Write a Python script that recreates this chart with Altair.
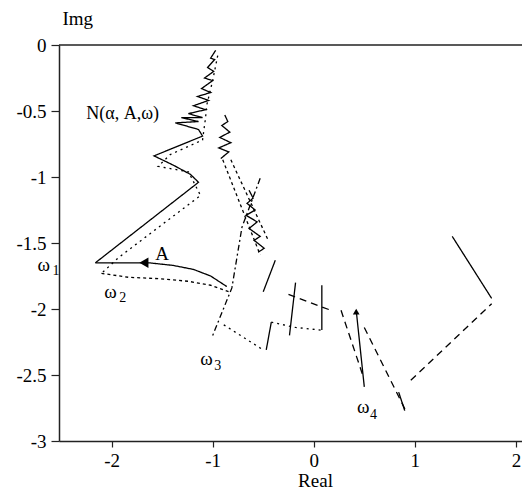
import altair as alt
import pandas as pd

# ---- data (in data units) ----
N_X = [-0.97, -1.02, -0.98, -1.05, -0.99, -1.08, -1.00, -1.11, -1.02, -1.15, -1.04, -1.19, -1.07, -1.24, -1.10, -1.31, -1.14, -1.37, -1.14, -1.10, -1.58, -1.39, -1.22, -1.14, -2.16]
N_Y = [-0.04, -0.10, -0.11, -0.17, -0.20, -0.25, -0.27, -0.33, -0.36, -0.39, -0.42, -0.46, -0.49, -0.52, -0.55, -0.55, -0.58, -0.59, -0.64, -0.69, -0.84, -0.91, -0.98, -1.04, -1.65]
A_X = [-2.16, -1.63, -1.39, -1.19, -1.02, -0.86]
A_Y = [-1.65, -1.65, -1.67, -1.70, -1.75, -1.83]
S2_X = [-0.88, -0.85, -0.91, -0.83, -0.93, -0.82, -0.94, -0.84, -0.92]
S2_Y = [-0.53, -0.58, -0.61, -0.66, -0.70, -0.74, -0.78, -0.81, -0.86]
S3_X = [-0.64, -0.60, -0.66, -0.58, -0.67, -0.56, -0.64, -0.53, -0.59, -0.49, -0.55]
S3_Y = [-1.10, -1.16, -1.20, -1.25, -1.29, -1.34, -1.39, -1.45, -1.48, -1.54, -1.57]
F1_X, F1_Y = [-0.38, -0.50], [-1.63, -1.87]
F2_X, F2_Y = [-0.18, -0.24], [-1.80, -2.20]
F3_X, F3_Y = [0.08, 0.08], [-1.82, -2.16]
F4_X, F4_Y = [0.42, 0.50], [-2.01, -2.59]
F5_X, F5_Y = [1.37, 1.76], [-1.45, -1.92]
F6_X, F6_Y = [-0.47, -0.42], [-2.31, -2.10]
F7_X, F7_Y = [0.84, 0.90], [-2.63, -2.77]
D1_X = [-0.95, -1.00, -1.06, -1.07, -1.10, -1.42, -1.54, -1.24, -1.12, -1.93, -2.10]
D1_Y = [-0.08, -0.27, -0.46, -0.55, -0.72, -0.83, -0.92, -0.96, -1.14, -1.61, -1.73]
H_X = [-2.10, -1.83, -1.54, -1.24, -1.02, -0.84]
H_Y = [-1.73, -1.76, -1.77, -1.79, -1.82, -1.87]
DD_X = [-0.53, -0.71, -0.81, -1.01]
DD_Y = [-1.01, -1.38, -1.84, -2.22]
D4A_X, D4A_Y = [-0.89, -0.52], [-2.12, -2.30]
D4B_X, D4B_Y = [-0.42, -0.18, 0.07], [-2.10, -2.14, -2.16]
E0_X, E0_Y = [-0.25, 0.17], [-1.89, -2.01]
E1_X, E1_Y = [0.27, 0.48], [-2.01, -2.49]
E2_X, E2_Y = [0.50, 0.91], [-2.14, -2.77]
E3_X, E3_Y = [0.96, 1.76], [-2.54, -1.96]
B1_X, B1_Y = [-0.90, -0.53], [-0.87, -1.59]
B2_X, B2_Y = [-0.82, -0.45], [-0.87, -1.48]

SEGMENTS = [
    ("N", N_X, N_Y, "solid"), ("A", A_X, A_Y, "solid"),
    ("S2", S2_X, S2_Y, "solid"), ("S3", S3_X, S3_Y, "solid"),
    ("F1", F1_X, F1_Y, "solid"), ("F2", F2_X, F2_Y, "solid"),
    ("F3", F3_X, F3_Y, "solid"), ("F4", F4_X, F4_Y, "solid"),
    ("F5", F5_X, F5_Y, "solid"), ("F6", F6_X, F6_Y, "solid"),
    ("F7", F7_X, F7_Y, "solid"),
    ("D1", D1_X, D1_Y, "dotted"), ("H", H_X, H_Y, "hatch"),
    ("DD", DD_X, DD_Y, "dashdot"),
    ("D4A", D4A_X, D4A_Y, "dotted"), ("D4B", D4B_X, D4B_Y, "dotted"),
    ("E0", E0_X, E0_Y, "dashed"), ("E1", E1_X, E1_Y, "dashed"),
    ("E2", E2_X, E2_Y, "dashed"), ("E3", E3_X, E3_Y, "dashed"),
    ("B1", B1_X, B1_Y, "hatch"), ("B2", B2_X, B2_Y, "hatch"),
]

rows = []
for name, xs_, ys_, style in SEGMENTS:
    for i, (xv, yv) in enumerate(zip(xs_, ys_)):
        rows.append({"seg": name, "ord": i, "x": xv, "y": yv, "style": style})
lines_df = pd.DataFrame(rows)

ARROW_X = [-1.68, 0.42]
ARROW_Y = [-1.65, -2.02]
ARROW_SHAPE = ["triangle-left", "triangle-up"]
ARROW_SIZE = [110, 45]
arrows_df = pd.DataFrame({"x": ARROW_X, "y": ARROW_Y, "shape": ARROW_SHAPE, "size": ARROW_SIZE})

N_LABEL = ["N(\u03b1, A,\u03c9)"]
N_LABEL_X = [-2.25]
N_LABEL_Y = [-0.52]
nlabel_df = pd.DataFrame({"t": N_LABEL, "x": N_LABEL_X, "y": N_LABEL_Y})

LABEL_TEXT = ["A", "\u03c9", "\u03c9", "\u03c9", "\u03c9"]
LABEL_X = [-1.50, -2.67, -2.01, -1.06, 0.49]
LABEL_Y = [-1.58, -1.67, -1.87, -2.38, -2.74]
labels_df = pd.DataFrame({"t": LABEL_TEXT, "x": LABEL_X, "y": LABEL_Y})

SUB_TEXT = ["1", "2", "3", "4"]
SUB_X = [-2.55, -1.89, -0.95, 0.59]
SUB_Y = [-1.71, -1.92, -2.43, -2.80]
subs_df = pd.DataFrame({"t": SUB_TEXT, "x": SUB_X, "y": SUB_Y})

X_TICKS = [-2, -1, 0, 1, 2]
Y_TICKS = [-3, -2.5, -2, -1.5, -1, -0.5, 0]

FONT = "Liberation Serif"
LABEL_EXPR = "replace(datum.label, '\u2212', '-')"
xs = alt.Scale(domain=[-2.52, 2.06], nice=False, zero=False)
ys = alt.Scale(domain=[-3, 0], nice=False, zero=False)

x_enc = alt.X("x:Q", scale=xs, axis=alt.Axis(
    values=X_TICKS, format="~g", labelExpr=LABEL_EXPR,
    title="Real", grid=False, tickSize=6, labelPadding=4,
    titleX=256, titleY=45, titleBaseline="alphabetic", titleAlign="center"))
y_enc = alt.Y("y:Q", scale=ys, axis=alt.Axis(
    values=Y_TICKS, format="~g", labelExpr=LABEL_EXPR,
    title="Img", grid=False, tickSize=8, labelPadding=5,
    titleAngle=0, titleAlign="left", titleX=3, titleY=-21, titleBaseline="alphabetic"))

lines = alt.Chart(lines_df).mark_line(color="black", strokeWidth=1.3, clip=True).encode(
    x=x_enc, y=y_enc,
    detail="seg:N", order="ord:Q",
    strokeDash=alt.StrokeDash("style:N", legend=None, scale=alt.Scale(
        domain=["solid", "dotted", "dashed", "hatch", "dashdot"],
        range=[[1, 0], [2, 4], [7, 5], [3, 3], [6, 3, 2, 3]])),
)

arrows = alt.Chart(arrows_df).mark_point(filled=True, color="black", opacity=1).encode(
    x="x:Q", y="y:Q",
    shape=alt.Shape("shape:N", scale=None, legend=None),
    size=alt.Size("size:Q", scale=None, legend=None),
)

top_rule = alt.Chart(pd.DataFrame({"y": [0]})).mark_rule(color="#222", strokeWidth=1.5).encode(
    y=alt.Y("y:Q")
)

nlabel = alt.Chart(nlabel_df).mark_text(font=FONT, fontSize=18, color="black", baseline="middle", align="left").encode(
    x="x:Q", y="y:Q", text="t:N"
)
labels = alt.Chart(labels_df).mark_text(font=FONT, fontSize=19, color="black", baseline="middle", align="center").encode(
    x="x:Q", y="y:Q", text="t:N"
)
subs = alt.Chart(subs_df).mark_text(font=FONT, fontSize=14, color="black", baseline="middle").encode(
    x="x:Q", y="y:Q", text="t:N"
)

chart = alt.layer(lines, arrows, top_rule, nlabel, labels, subs).properties(
    width=463, height=396,
    autosize=alt.AutoSizeParams(type="none"),
    padding={"left": 51, "top": 37, "right": 0, "bottom": 49},
).configure_view(stroke=None).configure_axis(
    domainColor="#222", domainWidth=1.5, tickColor="#222", tickWidth=1.2,
    labelFont=FONT, labelFontSize=19, labelColor="black",
    titleFont=FONT, titleFontSize=19, titleFontWeight="normal", titleColor="black",
)

chart.save("out.html", embed_options={"renderer": "svg", "actions": False})
